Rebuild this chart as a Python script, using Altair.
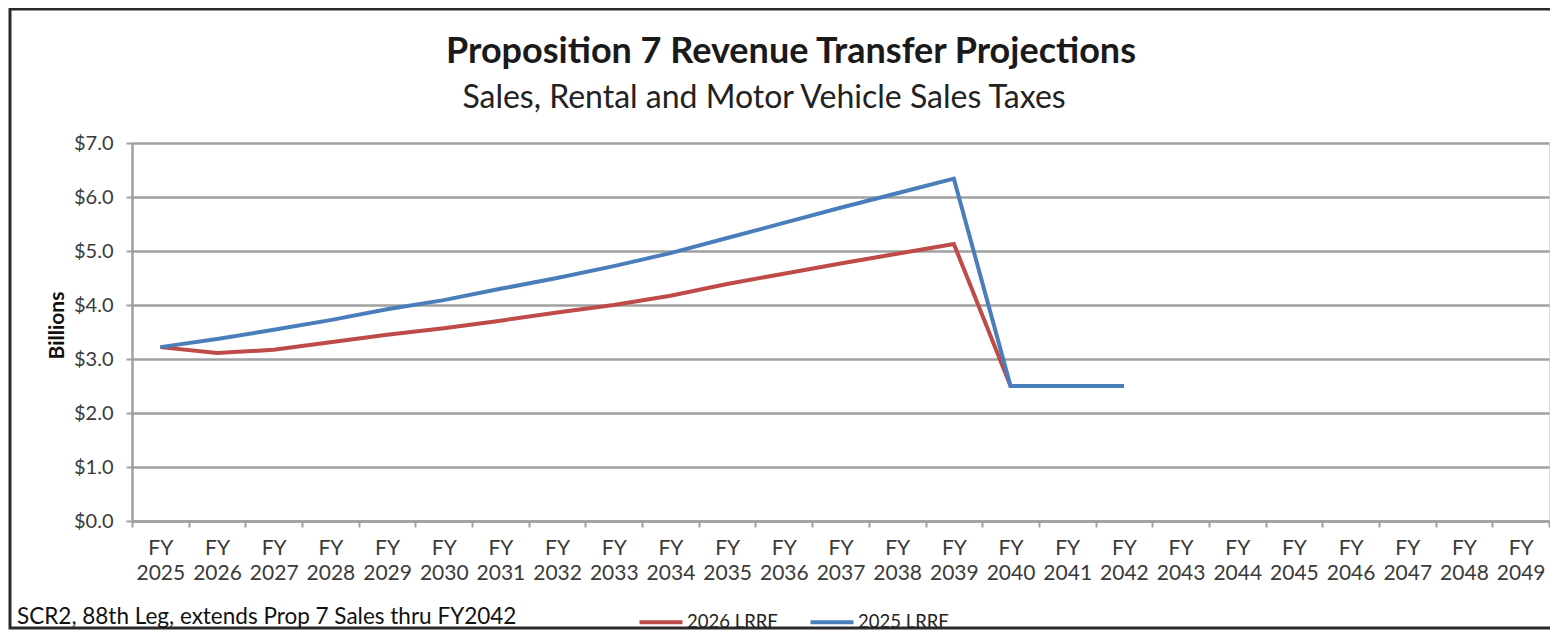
import altair as alt
import pandas as pd

years = ["FY 2025", "FY 2026", "FY 2027", "FY 2028", "FY 2029", "FY 2030", "FY 2031",
         "FY 2032", "FY 2033", "FY 2034", "FY 2035", "FY 2036", "FY 2037", "FY 2038",
         "FY 2039", "FY 2040", "FY 2041", "FY 2042", "FY 2043", "FY 2044", "FY 2045",
         "FY 2046", "FY 2047", "FY 2048", "FY 2049"]
data_years = years[:18]
lrrf_2026 = [3.22, 3.11, 3.17, 3.31, 3.45, 3.57, 3.71, 3.86, 4.00, 4.17, 4.39, 4.58,
             4.77, 4.95, 5.13, 2.50, 2.50, 2.50]
lrrf_2025 = [3.22, 3.37, 3.54, 3.72, 3.92, 4.09, 4.30, 4.50, 4.72, 4.96, 5.24, 5.52,
             5.80, 6.07, 6.34, 2.50, 2.50, 2.50]
series_names = ["2026 LRRF", "2025 LRRF"]
series_colors = ["#BE4B48", "#4A7EBB"]
y_ticks = [0, 1, 2, 3, 4, 5, 6, 7]
title_text = "Proposition 7 Revenue Transfer Projections"
subtitle_text = "Sales, Rental and Motor Vehicle Sales Taxes"
footnote = "SCR2, 88th Leg, extends Prop 7 Sales thru FY2042"

rows = []
for name, vals in zip(series_names, [lrrf_2026, lrrf_2025]):
    for yr, v in zip(data_years, vals):
        rows.append({"year": yr, "value": v, "series": name})
df = pd.DataFrame(rows)

W, H = 1417, 378
FONT = "Lato"

x_enc = alt.X("year:N", sort=years,
              scale=alt.Scale(type="band", domain=years, paddingInner=0, paddingOuter=0),
              axis=alt.Axis(title=None, tickBand="extent", labelAngle=0,
                            labelExpr="split(datum.label, ' ')",
                            labelLineHeight=25, labelFontSize=21, labelPadding=10,
                            labelColor="#3a3a3a", tickSize=6, tickColor="#a0a0a0",
                            tickWidth=2, domainColor="#a0a0a0", domainWidth=2.5,
                            grid=False, labelFont=FONT))
y_enc = alt.Y("value:Q",
              scale=alt.Scale(domain=[0, 7], nice=False, zero=True),
              axis=alt.Axis(title="Billions", values=y_ticks,
                            labelExpr="'$' + format(datum.value, '.1f')",
                            labelFontSize=20, labelColor="#3a3a3a", labelPadding=13,
                            labelFont=FONT, tickSize=6, tickColor="#a0a0a0", tickWidth=2,
                            domainColor="#a0a0a0", domainWidth=2.5,
                            grid=True, gridColor="#a0a0a0", gridWidth=2.6,
                            titleFont=FONT, titleFontSize=21, titleFontWeight="bold",
                            titleColor="#111111", titlePadding=6, titleY=182))
color_enc = alt.Color("series:N",
                      scale=alt.Scale(domain=series_names, range=series_colors),
                      legend=alt.Legend(title=None, orient="none", legendX=505,
                                        legendY=455, direction="horizontal",
                                        symbolType="stroke", symbolSize=1850,
                                        symbolStrokeWidth=4, labelFontSize=18.5,
                                        labelFont=FONT, labelColor="#222222",
                                        columnPadding=24, labelOffset=2))

base = alt.Chart(df)
red = base.transform_filter(alt.datum.series == "2026 LRRF").mark_line(
    strokeWidth=4).encode(x=x_enc, y=y_enc, color=color_enc)
blue = base.transform_filter(alt.datum.series == "2025 LRRF").mark_line(
    strokeWidth=4).encode(x=x_enc, y=y_enc, color=color_enc)

text_df = pd.DataFrame({"title": [title_text], "subtitle": [subtitle_text],
                        "note": [footnote]})
txt = alt.Chart(text_df)
title_mark = txt.mark_text(align="center", baseline="middle", fontSize=36,
                           fontWeight="bold", font=FONT, color="#1a1a1a").encode(
    x=alt.value(659), y=alt.value(-91), text="title:N")
subtitle_mark = txt.mark_text(align="center", baseline="middle", fontSize=32,
                              font=FONT, color="#222222").encode(
    x=alt.value(632), y=alt.value(-45), text="subtitle:N")
note = txt.mark_text(align="left", baseline="middle", fontSize=22.5,
                     font=FONT, color="#111111").encode(
    x=alt.value(-115), y=alt.value(474), text="note:N")
frame = txt.mark_rect(fill="transparent", stroke="#2a2a2a", strokeWidth=3).encode(
    x=alt.value(-122), x2=alt.value(1440), y=alt.value(-134), y2=alt.value(485))

chart = alt.layer(frame, red, blue, title_mark, subtitle_mark, note).properties(
    width=W, height=H,
    autosize=alt.AutoSizeParams(type="none"),
    padding={"left": 124, "top": 135, "right": 1, "bottom": 110},
).configure_view(strokeWidth=0).configure(background="white")

chart.save("out.html", embed_options={"renderer": "svg", "actions": False})
